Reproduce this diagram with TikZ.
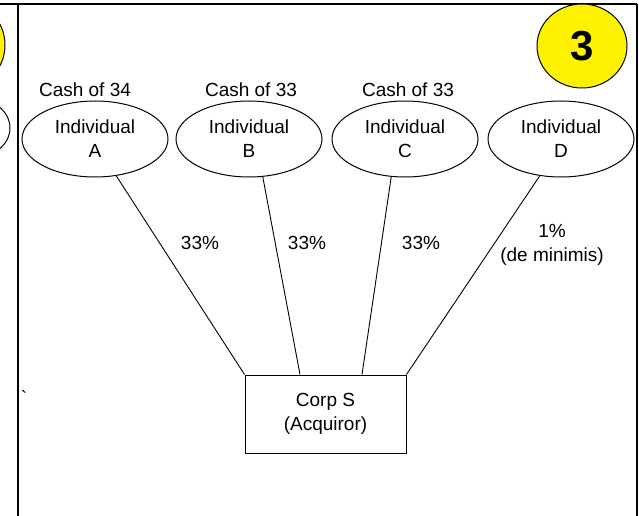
\documentclass[tikz,border=0pt]{standalone}
\usepackage{fontspec}
\setmainfont{Liberation Sans}
\usetikzlibrary{shapes.geometric,positioning}

\begin{document}
\begin{tikzpicture}[x=1pt,y=-1pt,
    every node/.style={font=\fontsize{19}{24}\selectfont, align=center},
    person/.style={draw, ellipse, line width=1pt, inner sep=0pt,
      minimum width=146pt, minimum height=76pt},
    frame/.style={line width=2pt},
    link/.style={line width=0.9pt},
  ]
  \useasboundingbox (0,0) rectangle (639,516);

  \begin{scope}
    \clip (0,0) rectangle (639,516);
    \draw[fill=yellow, line width=1pt] (-40,45) ellipse [x radius=45pt, y radius=45pt];
    \draw[line width=1pt] (-30,128) ellipse [x radius=40pt, y radius=31pt];
  \end{scope}

  \draw[frame] (0,4.5) -- (637,4.5);
  \draw[frame] (17.5,4.5) -- (17.5,516);
  \draw[frame] (637,4.5) -- (637,516);

  \node[draw, ellipse, fill=yellow, line width=1pt, inner sep=0pt,
    minimum width=90pt, minimum height=84pt,
    font=\fontsize{42}{42}\selectfont\bfseries] (badge) at (582,46) {3};

  \node[person] (indA) at (95,139) {Individual\\A};
  \node[person] (indB) at (249,139) {Individual\\B};
  \node[person] (indC) at (405,139) {Individual\\C};
  \node[person] (indD) at (561,139) {Individual\\D};

  \node[above=0pt, xshift=-10pt] (cashA) at (indA.north) {Cash of 34};
  \node[above=0pt, xshift=2pt] (cashB) at (indB.north) {Cash of 33};
  \node[above=0pt, xshift=3pt] (cashC) at (indC.north) {Cash of 33};

  \node[draw, line width=1pt, minimum width=161pt, minimum height=78pt]
    (corpS) at (325.5,414) {Corp S\\(Acquiror)};

  \draw[link] (indA.-60) -- (corpS.north west);
  \draw[link] (indB.-70) -- ([xshift=-25.5pt]corpS.north);
  \draw[link] (indC.-110) -- ([xshift=36.5pt]corpS.north);
  \draw[link] (indD.-120) -- (corpS.north east);

  \node (pctA) at (200,243) {33\%};
  \node (pctB) at (307,243) {33\%};
  \node (pctC) at (421,243) {33\%};
  \node (pctD) at (552,245) {1\%\\(de minimis)};

  \node (tick) at (24,398) {\textasciigrave};
\end{tikzpicture}
\end{document}
